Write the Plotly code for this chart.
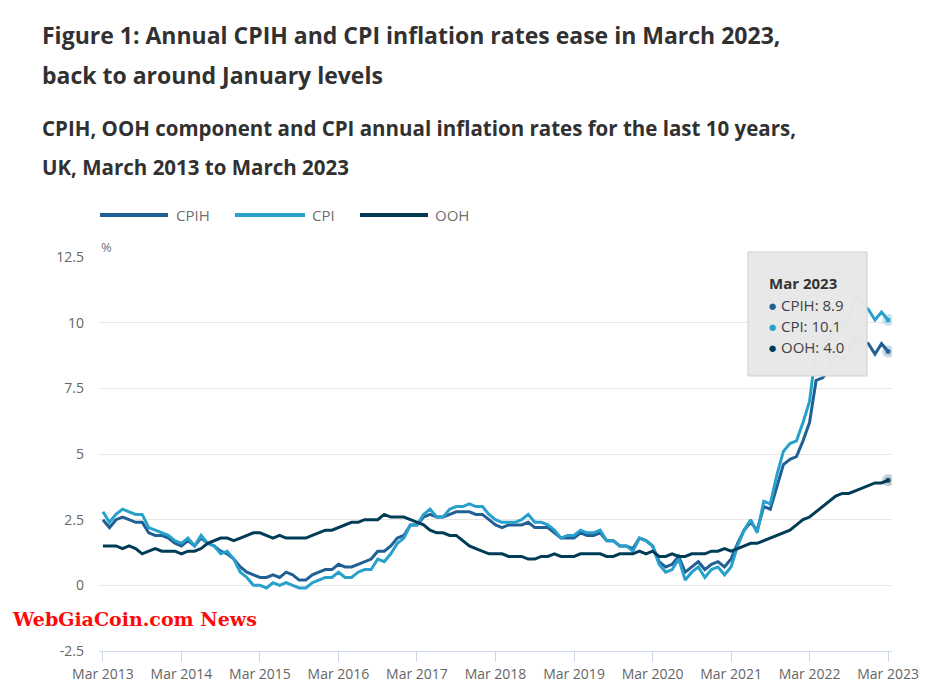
import plotly.graph_objects as go

# ---------------- data ----------------
month_names = ["Jan", "Feb", "Mar", "Apr", "May", "Jun", "Jul", "Aug", "Sep", "Oct", "Nov", "Dec"]
months = []
for yr in range(2013, 2024):
    for k, m in enumerate(month_names):
        if (yr == 2013 and k < 2) or (yr == 2023 and k > 2):
            continue
        months.append(f"{m} {yr}")

cpih = [2.5, 2.2, 2.5, 2.6, 2.5, 2.4, 2.4, 2.0, 1.9, 1.9,
        1.8, 1.6, 1.5, 1.7, 1.5, 1.8, 1.6, 1.5, 1.3, 1.2, 1.0, 0.7,
        0.5, 0.4, 0.3, 0.3, 0.4, 0.3, 0.5, 0.4, 0.2, 0.2, 0.4, 0.5,
        0.6, 0.6, 0.8, 0.7, 0.7, 0.8, 0.9, 1.0, 1.3, 1.3, 1.5, 1.8,
        1.9, 2.3, 2.3, 2.6, 2.7, 2.6, 2.6, 2.7, 2.8, 2.8, 2.8, 2.7,
        2.7, 2.5, 2.3, 2.2, 2.3, 2.3, 2.3, 2.4, 2.2, 2.2, 2.2, 2.0,
        1.8, 1.8, 1.8, 2.0, 1.9, 1.9, 2.0, 1.7, 1.7, 1.5, 1.5, 1.4,
        1.8, 1.7, 1.5, 0.9, 0.7, 0.8, 1.1, 0.5, 0.7, 0.9, 0.6, 0.8,
        0.9, 0.7, 1.0, 1.6, 2.1, 2.4, 2.1, 3.0, 2.9, 3.8, 4.6, 4.8,
        4.9, 5.5, 6.2, 7.8, 7.9, 8.2, 8.8, 8.6, 8.8, 9.6, 9.3, 9.2,
        8.8, 9.2, 8.9]

cpi = [2.8, 2.4, 2.7, 2.9, 2.8, 2.7, 2.7, 2.2, 2.1, 2.0,
       1.9, 1.7, 1.6, 1.8, 1.5, 1.9, 1.6, 1.5, 1.2, 1.3, 1.0, 0.5,
       0.3, 0.0, 0.0, -0.1, 0.1, 0.0, 0.1, 0.0, -0.1, -0.1, 0.1, 0.2,
       0.3, 0.3, 0.5, 0.3, 0.3, 0.5, 0.6, 0.6, 1.0, 0.9, 1.2, 1.6,
       1.8, 2.3, 2.3, 2.7, 2.9, 2.6, 2.6, 2.9, 3.0, 3.0, 3.1, 3.0,
       3.0, 2.7, 2.5, 2.4, 2.4, 2.4, 2.5, 2.7, 2.4, 2.4, 2.3, 2.1,
       1.8, 1.9, 1.9, 2.1, 2.0, 2.0, 2.1, 1.7, 1.7, 1.5, 1.5, 1.3,
       1.8, 1.7, 1.5, 0.8, 0.5, 0.6, 1.0, 0.2, 0.5, 0.7, 0.3, 0.6,
       0.7, 0.4, 0.7, 1.5, 2.1, 2.5, 2.0, 3.2, 3.1, 4.2, 5.1, 5.4,
       5.5, 6.2, 7.0, 9.0, 9.1, 9.4, 10.1, 9.9, 10.1, 11.1, 10.7, 10.5,
       10.1, 10.4, 10.1]

ooh = [1.5, 1.5, 1.5, 1.4, 1.5, 1.4, 1.2, 1.3, 1.4, 1.3,
       1.3, 1.3, 1.2, 1.3, 1.3, 1.4, 1.6, 1.7, 1.8, 1.8, 1.7, 1.8,
       1.9, 2.0, 2.0, 1.9, 1.8, 1.9, 1.8, 1.8, 1.8, 1.8, 1.9, 2.0,
       2.1, 2.1, 2.2, 2.3, 2.4, 2.4, 2.5, 2.5, 2.5, 2.7, 2.6, 2.6,
       2.6, 2.5, 2.4, 2.3, 2.1, 2.0, 2.0, 1.9, 1.9, 1.7, 1.5, 1.4,
       1.3, 1.2, 1.2, 1.2, 1.1, 1.1, 1.1, 1.0, 1.0, 1.1, 1.1, 1.2,
       1.1, 1.1, 1.1, 1.2, 1.2, 1.2, 1.2, 1.1, 1.1, 1.2, 1.2, 1.2,
       1.3, 1.2, 1.3, 1.1, 1.1, 1.2, 1.1, 1.1, 1.2, 1.2, 1.2, 1.3,
       1.3, 1.4, 1.3, 1.4, 1.5, 1.6, 1.6, 1.7, 1.8, 1.9, 2.0, 2.1,
       2.3, 2.5, 2.6, 2.8, 3.0, 3.2, 3.4, 3.5, 3.5, 3.6, 3.7, 3.8,
       3.9, 3.9, 4.0]

x_ticks = [f"Mar {y}" for y in range(2013, 2024)]
y_ticks = [-2.5, 0, 2.5, 5, 7.5, 10, 12.5]
y_tick_text = ["-2.5", "0", "2.5", "5", "7.5", "10", "12.5"]

series_names = ["CPIH", "CPI", "OOH"]
series_colors = ["#206095", "#27a0cc", "#003c57"]
series_values = [cpih, cpi, ooh]

# ---------------- layout helpers ----------------
# page body has an 8px margin, so the figure is drawn 8px in from the window edge
OFF = 8
WIN_W, WIN_H = 943, 698
W, H = WIN_W - 2 * OFF, WIN_H - 2 * OFF
# plot area in window pixels
PL, PR, PT, PB = 99, 892, 257, 651


def px_x(px):
    return (px - PL) / (PR - PL)


def px_y(py):
    return (PB - py) / (PB - PT)


FONT = "Open Sans"
GREY = "#707070"
TITLE_COL = "#323132"

fig = go.Figure()

for name, col, vals in zip(series_names, series_colors, series_values):
    fig.add_trace(go.Scatter(
        x=months, y=vals, mode="lines", name=name,
        line=dict(color=col, width=3), showlegend=False,
        hoverinfo="skip"))

# halos at the hovered point (last month)
for name, col, vals in zip(series_names, series_colors, series_values):
    fig.add_trace(go.Scatter(
        x=[months[-1]], y=[vals[-1]], mode="markers", showlegend=False,
        marker=dict(color=col, size=12, opacity=0.25, line=dict(width=0)),
        hoverinfo="skip"))
    fig.add_trace(go.Scatter(
        x=[months[-1]], y=[vals[-1]], mode="markers", showlegend=False,
        marker=dict(color=col, size=5, opacity=0.9, line=dict(width=0)),
        hoverinfo="skip"))

annotations = []
shapes = []

# titles
for txt, py, sz in [
    ("Figure 1: Annual CPIH and CPI inflation rates ease in March 2023,", 35, 23),
    ("back to around January levels", 75, 23),
    ("CPIH, OOH component and CPI annual inflation rates for the last 10 years,", 127.5, 20.5),
    ("UK, March 2013 to March 2023", 167, 20.5),
]:
    annotations.append(dict(
        text=f"<b>{txt}</b>", x=px_x(40), y=px_y(py), xref="paper", yref="paper",
        xanchor="left", yanchor="middle", showarrow=False,
        font=dict(family=FONT, size=sz, color=TITLE_COL)))

# legend (manual)
leg = [(100, 168, 174), (235, 305, 310), (360, 428, 433)]
for (x0, x1, xt), name, col in zip(leg, series_names, series_colors):
    shapes.append(dict(type="line", xref="paper", yref="paper",
                       x0=px_x(x0), x1=px_x(x1), y0=px_y(215), y1=px_y(215),
                       line=dict(color=col, width=4)))
    annotations.append(dict(text=name, x=px_x(xt), y=px_y(215), xref="paper", yref="paper",
                            xanchor="left", yanchor="middle", showarrow=False,
                            font=dict(family=FONT, size=15, color=GREY)))

# % unit label
annotations.append(dict(text="%", x=px_x(99), y=px_y(247), xref="paper", yref="paper",
                        xanchor="left", yanchor="middle", showarrow=False,
                        font=dict(family=FONT, size=13, color=GREY)))

# tooltip box
shapes.append(dict(type="rect", xref="paper", yref="paper",
                   x0=px_x(748), x1=px_x(867), y0=px_y(252), y1=px_y(376),
                   fillcolor="rgba(232,232,232,0.98)", line=dict(color="#cfcfcf", width=1),
                   layer="above"))
annotations.append(dict(text=f"<b>{months[-1]}</b>", x=px_x(767), y=px_y(283), xref="paper", yref="paper",
                        xanchor="left", yanchor="middle", showarrow=False,
                        font=dict(family=FONT, size=15, color="#333333")))
for i, (name, col, vals) in enumerate(zip(series_names, series_colors, series_values)):
    yy = [305, 326, 347][i]
    annotations.append(dict(
        text=f"<span style='color:{col}'>●</span> {name}: {vals[-1]:.1f}",
        x=px_x(766), y=px_y(yy), xref="paper", yref="paper",
        xanchor="left", yanchor="middle", showarrow=False,
        font=dict(family=FONT, size=15, color="#414042")))

# watermark
annotations.append(dict(text="<b>WebGiaCoin.com News</b>", x=px_x(10), y=px_y(619),
                        xref="paper", yref="paper", xanchor="left", yanchor="middle",
                        showarrow=False,
                        font=dict(family="DejaVu Serif", size=19, color="#ff0a0a")))

fig.update_layout(
    width=W, height=H,
    margin=dict(l=PL - OFF, r=W - (PR - OFF), t=PT - OFF, b=H - (PB - OFF), pad=0),
    paper_bgcolor="white", plot_bgcolor="white",
    showlegend=False,
    hovermode=False,
    font=dict(family=FONT, color=GREY),
    annotations=annotations,
    shapes=shapes,
    xaxis=dict(
        type="category", categoryorder="array", categoryarray=months,
        range=[-0.6, len(months) - 0.4], automargin=False,
        tickmode="array", tickvals=x_ticks, ticktext=x_ticks,
        ticks="outside", ticklen=10, tickcolor="#ccd6eb", tickwidth=1,
        showline=True, linecolor="#ccd6eb", linewidth=1,
        showgrid=False, zeroline=False,
        tickfont=dict(family=FONT, size=14, color="#666666"),
    ),
    yaxis=dict(
        range=[-2.5, 12.5], tickmode="array", tickvals=y_ticks, ticktext=y_tick_text,
        automargin=False,
        showgrid=True, gridcolor="#e6e6e6", gridwidth=1, zeroline=False,
        showline=False, ticks="", ticklabelstandoff=14,
        tickfont=dict(family=FONT, size=14, color="#666666"),
    ),
)

fig.write_html("out.html")
